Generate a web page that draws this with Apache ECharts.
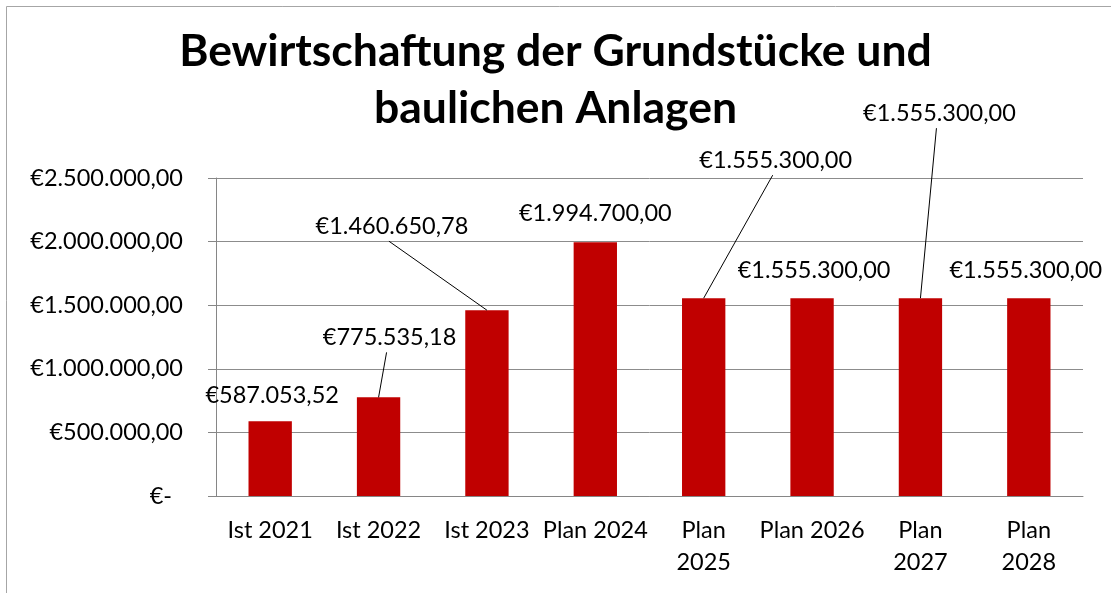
<!DOCTYPE html>
<html style="width:100%;height:100%">
<head>
    <meta charset="UTF-8">
    <title>Bewirtschaftung</title>
    <script type="text/javascript" src="https://cdn.jsdelivr.net/npm/echarts@6/dist/echarts.min.js"></script>
</head>
<body style="width:100%;height:100%;margin:0;overflow:hidden;background:#fff">
    <div id="main" style="width:1111px;height:593px"></div>

    <script type="text/javascript">
        var myChart = echarts.init(document.getElementById('main'));

        var categories = ['Ist 2021', 'Ist 2022', 'Ist 2023', 'Plan 2024', 'Plan\n2025', 'Plan 2026', 'Plan\n2027', 'Plan\n2028'];
        var values = [587053.52, 775535.18, 1460650.78, 1994700.00, 1555300.00, 1555300.00, 1555300.00, 1555300.00];
        var yTicks = [0, 500000, 1000000, 1500000, 2000000, 2500000];

        // where each value label sits, relative to the bar top centre, and whether it gets a leader line
        var labelShift = [[2, -26], [11, -60], [-95, -84], [0, -29], [72, -138], [2, -28], [19, -185], [-3, -28]];
        var leader = [false, true, true, false, true, false, true, false];

        var font = 'Lato';
        var fs = 23.5;

        function euro(v) {
            if (v === 0) return '{z|€-}';
            return '€' + v.toLocaleString('de-DE', { minimumFractionDigits: 2, maximumFractionDigits: 2 });
        }

        var option = {
            animation: false,
            backgroundColor: '#fff',
            title: {
                text: 'Bewirtschaftung der Grundstücke und\nbaulichen Anlagen',
                left: 'center',
                top: 18,
                textStyle: {
                    fontFamily: font,
                    fontWeight: 'bold',
                    fontSize: 44.5,
                    lineHeight: 57,
                    color: '#000'
                }
            },
            graphic: [{
                type: 'rect',
                shape: { x: 6.5, y: 6.5, width: 1200, height: 700 },
                style: { fill: 'none', stroke: '#a6a6a6', lineWidth: 1 },
                silent: true
            }],
            grid: {
                left: 216,
                right: 28,
                top: 178,
                bottom: 97,
                outerBoundsMode: 'none'
            },
            xAxis: {
                type: 'category',
                data: categories,
                axisLine: { lineStyle: { color: '#868686', width: 1 } },
                axisTick: { length: 7, lineStyle: { color: '#868686' } },
                axisLabel: {
                    interval: 0,
                    margin: 18,
                    fontFamily: font,
                    fontSize: fs,
                    lineHeight: 32,
                    color: '#000'
                }
            },
            yAxis: {
                type: 'value',
                min: yTicks[0],
                max: yTicks[yTicks.length - 1],
                interval: yTicks[1] - yTicks[0],
                axisLine: { show: true, lineStyle: { color: '#868686', width: 1 } },
                axisTick: { show: true, length: 8, lineStyle: { color: '#868686' } },
                splitLine: { lineStyle: { color: '#8c8c8c', width: 1 } },
                axisLabel: {
                    margin: 33,
                    fontFamily: font,
                    fontSize: fs,
                    color: '#000',
                    formatter: euro,
                    rich: {
                        z: { fontFamily: font, fontSize: fs, color: '#000', padding: [0, 11, 0, 0] }
                    }
                }
            },
            series: [{
                type: 'bar',
                data: values,
                barWidth: '40%',
                itemStyle: { color: '#c00000' },
                label: {
                    show: true,
                    position: 'top',
                    fontFamily: font,
                    fontSize: fs,
                    color: '#000',
                    formatter: function (p) { return euro(p.value); }
                },
                labelLayout: function (p) {
                    var s = labelShift[p.dataIndex];
                    return {
                        x: p.rect.x + p.rect.width / 2 + s[0],
                        y: p.rect.y + s[1],
                        align: 'center',
                        verticalAlign: 'middle'
                    };
                },
                z: 2
            }, {
                type: 'custom',
                data: values.map(function (v, i) { return [i, v]; }),
                renderItem: function (params, api) {
                    var i = params.dataIndex;
                    if (!leader[i]) return;
                    var s = labelShift[i];
                    var p = api.coord([api.value(0), api.value(1)]);
                    return {
                        type: 'line',
                        shape: { x1: p[0], y1: p[1], x2: p[0] + s[0] - 3, y2: p[1] + s[1] + 15 },
                        style: { stroke: '#000', lineWidth: 1 }
                    };
                },
                silent: true,
                z: 3
            }]
        };

        myChart.setOption(option);
    </script>
</body>
</html>
